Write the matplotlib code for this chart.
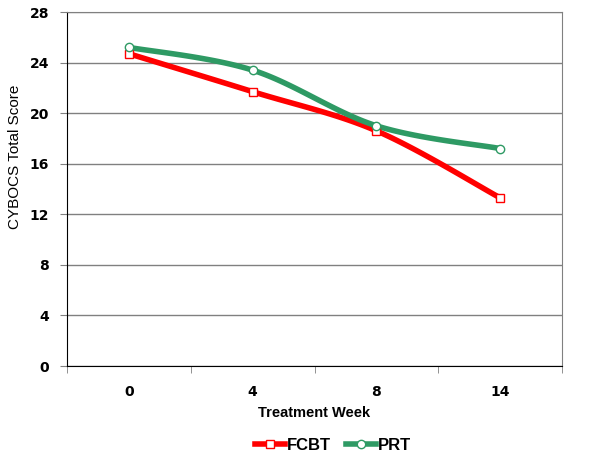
import numpy as np
import matplotlib.pyplot as plt

# Data
weeks = ['0', '4', '8', '14']
fcbt = [24.7, 21.7, 18.6, 13.3]
prt = [25.2, 23.4, 19.0, 17.2]
y_ticks = [0, 4, 8, 12, 16, 20, 24, 28]


def smooth(xs, ys, n=40):
    # Excel-style smoothed line (Catmull-Rom as cubic Bezier)
    xs = np.asarray(xs, float)
    ys = np.asarray(ys, float)
    px = np.concatenate([[xs[0]], xs, [xs[-1]]])
    py = np.concatenate([[ys[0]], ys, [ys[-1]]])
    t = np.linspace(0, 1, n)[:, None]
    outx, outy = [], []
    for i in range(1, len(px) - 2):
        p0 = np.array([px[i], py[i]])
        p3 = np.array([px[i + 1], py[i + 1]])
        c1 = p0 + (np.array([px[i + 1], py[i + 1]]) - np.array([px[i - 1], py[i - 1]])) / 6
        c2 = p3 - (np.array([px[i + 2], py[i + 2]]) - np.array([px[i], py[i]])) / 6
        b = ((1 - t) ** 3) * p0 + 3 * ((1 - t) ** 2) * t * c1 + 3 * (1 - t) * t ** 2 * c2 + t ** 3 * p3
        outx.append(b[:, 0])
        outy.append(b[:, 1])
    return np.concatenate(outx), np.concatenate(outy)


fig = plt.figure(figsize=(6.02, 4.59), dpi=100)
ax = fig.add_axes([67 / 602, 1 - 366 / 459, (562 - 67) / 602, (366 - 12) / 459])

x = np.arange(len(weeks))
for vals, color, marker, label in [(fcbt, '#ff0000', 's', 'FCBT'),
                                   (prt, '#2e9a64', 'o', 'PRT')]:
    sx, sy = smooth(x, vals)
    ax.plot(sx, sy, color=color, lw=4, solid_capstyle='round', zorder=3)
    ax.plot(x, vals, linestyle='none', marker=marker, ms=6, mfc='white',
            mec=color, mew=1, zorder=4)
    ax.plot([], [], color=color, lw=4, marker=marker, ms=6, mfc='white',
            mec=color, mew=1, label=label)

ax.set_xlim(-0.5, len(weeks) - 0.5)
ax.set_ylim(0, 28)
ax.set_yticks(y_ticks)
ax.set_yticklabels([str(v) for v in y_ticks], fontsize=10, fontweight='bold',
                   family='DejaVu Sans')
ax.set_xticks(x)
ax.set_xticklabels(weeks, fontsize=10, fontweight='bold', family='DejaVu Sans')
ax.set_xticks(np.arange(-0.5, len(weeks)), minor=True)
ax.tick_params(axis='x', which='major', length=0, pad=14)
ax.tick_params(axis='x', which='minor', length=5, color='#808080', direction='out')
ax.tick_params(axis='y', length=5, color='#808080', direction='out', pad=8)
ax.yaxis.grid(True, color='#808080', lw=1)
ax.set_axisbelow(True)

for side in ['top', 'right']:
    ax.spines[side].set_color('#808080')
ax.spines['left'].set_color('black')
ax.spines['bottom'].set_color('black')

ax.set_xlabel('Treatment Week', fontsize=10.5, fontweight='bold',
              family='Liberation Sans', labelpad=5)
ax.set_ylabel('CYBOCS Total Score', fontsize=11, family='Liberation Sans')
ax.yaxis.set_label_coords(-0.091, 0.59)

fig.legend(loc='center', bbox_to_anchor=(333 / 602, 1 - 445 / 459), ncol=2,
           frameon=False,
           prop={'family': 'Liberation Sans', 'weight': 'bold', 'size': 12},
           handlelength=1.8, handletextpad=0.1, columnspacing=0.9)

fig.savefig('out.png', dpi=100)
